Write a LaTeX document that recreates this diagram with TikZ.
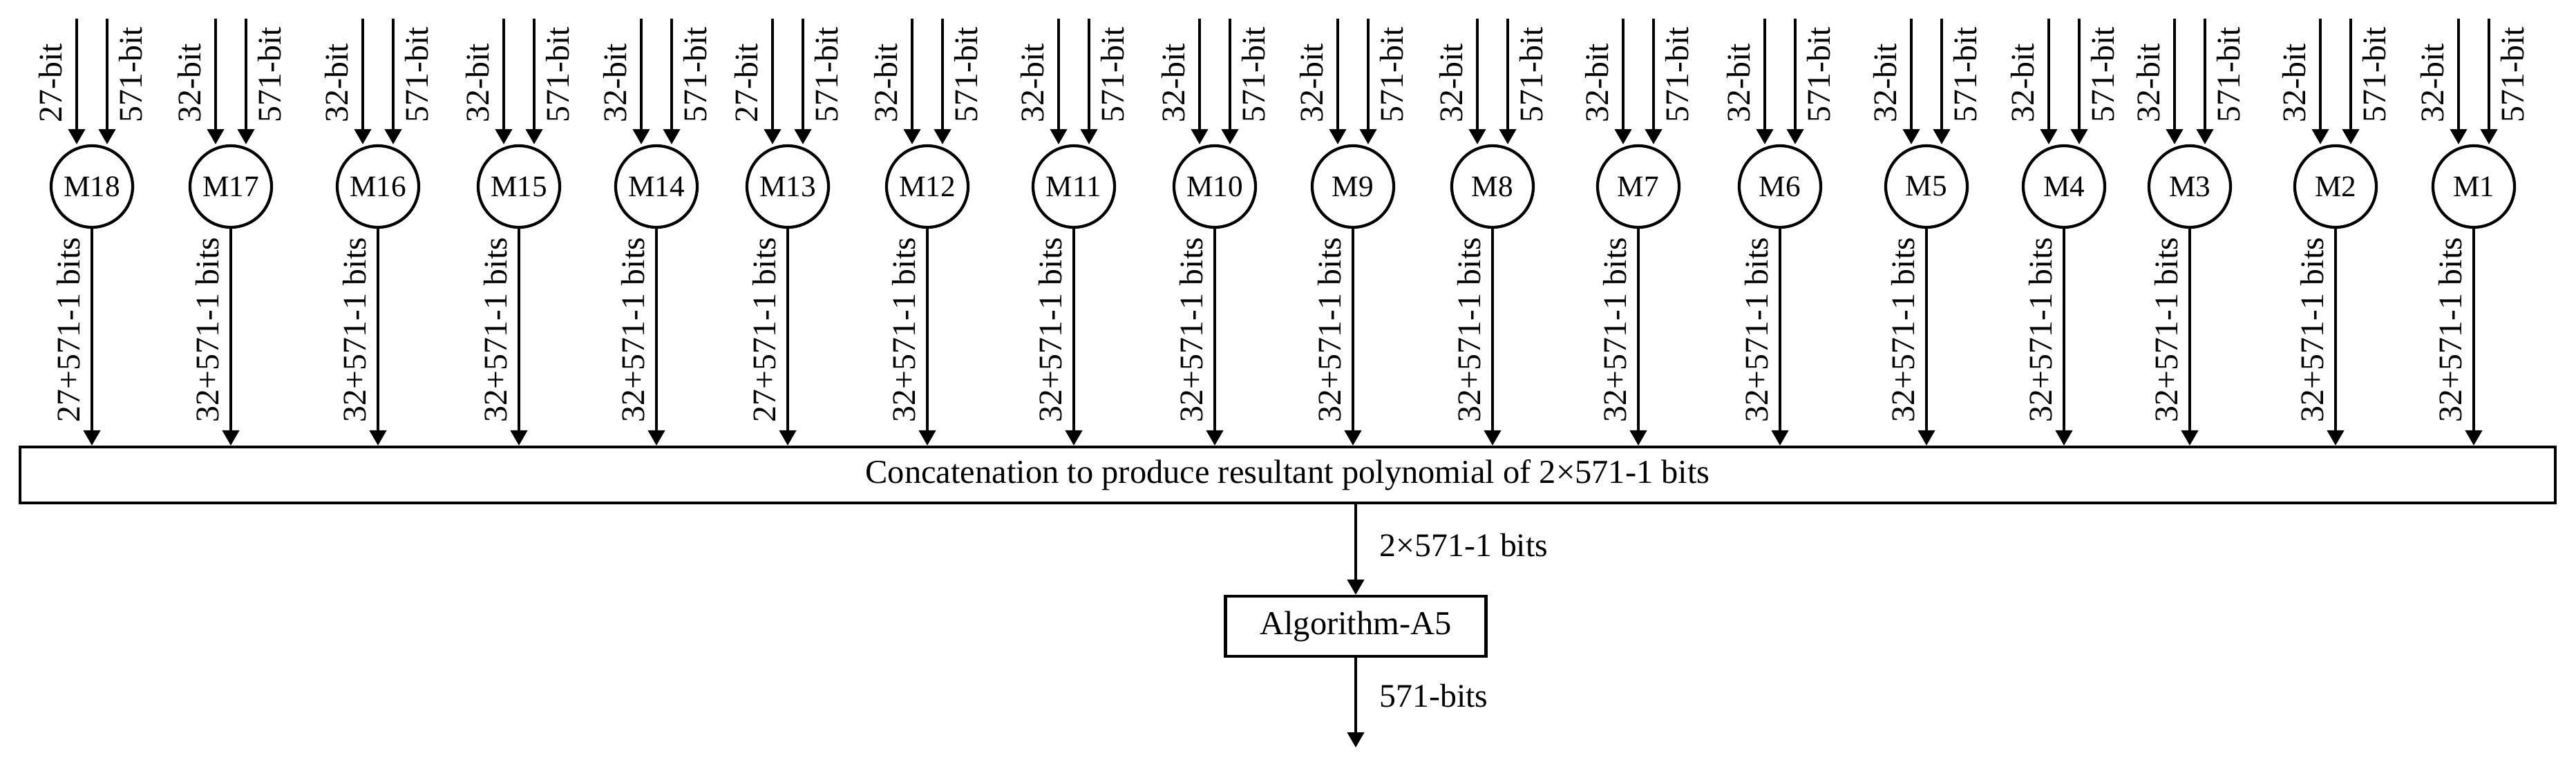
\documentclass[tikz,border=0pt]{standalone}
\usepackage{fontspec}
\setmainfont{Liberation Serif}
\usetikzlibrary{arrows.meta}
\usetikzlibrary{positioning}

\tikzset{
  mult/.style={draw, circle, line width=1.2pt, minimum size=1.18cm, inner sep=0pt, font=\fontsize{12.3}{14}\selectfont},
  block/.style={draw, rectangle, line width=1.2pt, inner sep=0pt, font=\fontsize{13.8}{16}\selectfont},
  lbl/.style={inner sep=0pt, font=\fontsize{13.6}{16}\selectfont},
  arr/.style={line width=1.2pt, -{Triangle[width=2.4mm,length=2.2mm]}}
}

\begin{document}
\begin{tikzpicture}
\useasboundingbox (0,0) rectangle (37.28,-11.02);

% concatenation and reduction
\node[block, minimum width=36.69cm, minimum height=0.81cm] (concat) at (18.635,-6.875) {Concatenation to produce resultant polynomial of 2×571-1 bits};
\node[block, minimum width=3.77cm, minimum height=0.87cm] (alg) at (19.62,-9.065) {Algorithm-A5};
\coordinate (res) at (19.62,-10.82);

% multipliers M18 ... M1
\foreach \n/\x/\a in {18/1.33/27, 17/3.34/32, 16/5.47/32, 15/7.51/32, 14/9.50/32, 13/11.40/27,
                      12/13.42/32, 11/15.54/32, 10/17.58/32, 9/19.58/32, 8/21.60/32, 7/23.71/32,
                      6/25.76/32, 5/27.88/32, 4/29.87/32, 3/31.69/32, 2/33.80/32, 1/35.80/32}
{
  \node[mult] (M\n) at (\x,-2.70) {M\n};
  \coordinate (ina\n) at (\x-0.22,-0.27);
  \coordinate (inb\n) at (\x+0.22,-0.27);
  \draw[arr] (ina\n) -- (ina\n |- M\n.north);
  \draw[arr] (inb\n) -- (inb\n |- M\n.north);
  \node[lbl, rotate=90, anchor=base west] (la\n) at (\x-0.44,-1.78) {\a-bit};
  \node[lbl, rotate=90, anchor=base west] (lb\n) at (\x+0.72,-1.78) {571-bit};
  \draw[arr] (M\n.south) -- (M\n.south |- concat.north);
  \node[lbl, rotate=90, anchor=base west] (lo\n) at (\x-0.18,-6.12) {\a+571-1 bits};
}

\draw[arr] (alg.north |- concat.south) -- (alg.north);
\node[lbl, anchor=base west] (lc) at (19.96,-8.05) {2×571-1 bits};
\draw[arr] (alg.south) -- (res);
\node[lbl, anchor=base west] (ld) at (19.96,-10.23) {571-bits};
\end{tikzpicture}
\end{document}
